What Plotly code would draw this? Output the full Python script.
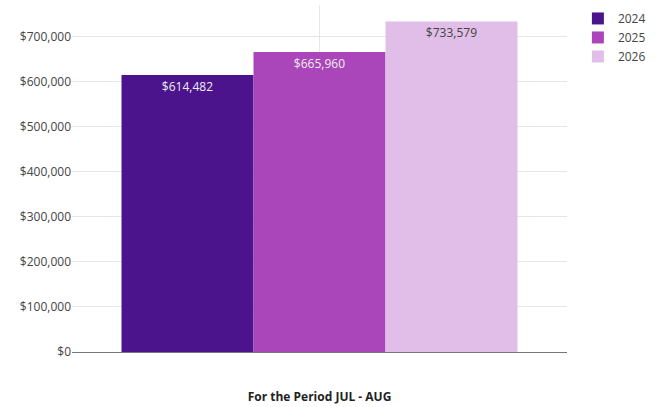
import plotly.graph_objects as go

categories = ["For the Period JUL - AUG"]
series_names = ["2024", "2025", "2026"]
values_2024 = [614482]
values_2025 = [665960]
values_2026 = [733579]
colors = ["#4b148c", "#aa46b9", "#e1bee7"]
text_colors = ["#eeeeee", "#eeeeee", "#444444"]
y_tickvals = [0, 100000, 200000, 300000, 400000, 500000, 600000, 700000]
y_ticktext = ["$0", "$100,000", "$200,000", "$300,000", "$400,000", "$500,000", "$600,000", "$700,000"]

fig = go.Figure()
for name, vals, col, tcol in zip(series_names, [values_2024, values_2025, values_2026], colors, text_colors):
    fig.add_trace(go.Bar(
        x=categories, y=vals, name=name,
        marker=dict(color=col, line=dict(width=0)),
        text=[f"${v:,}" for v in vals], textposition="inside", insidetextanchor="end",
        textangle=0,
        textfont=dict(color=tcol, size=12, family="Open Sans"),
        cliponaxis=False,
    ))

fig.update_layout(
    width=660, height=407,
    margin=dict(l=72, r=93, t=5, b=55, autoexpand=False),
    paper_bgcolor="white", plot_bgcolor="white",
    barmode="group", bargap=0.2, bargroupgap=0,
    font=dict(family="Open Sans", size=12, color="#444444"),
    showlegend=True,
    legend=dict(x=1.022, y=1.003, xanchor="left", yanchor="top",
                font=dict(size=12, color="#444444"), tracegroupgap=0),
    uniformtext=dict(minsize=12, mode="show"),
)
fig.update_xaxes(
    automargin=False,
    showgrid=True, gridcolor="#e6e6e6", showline=False, ticks="", showticklabels=False,
    title=dict(text="<b>For the Period JUL - AUG</b>", font=dict(size=12, color="#222222"), standoff=40),
)
fig.update_yaxes(
    automargin=False,
    range=[0, 770000], tickvals=y_tickvals, ticktext=y_ticktext,
    showgrid=True, gridcolor="#e6e6e6", zeroline=True, zerolinecolor="#777777", zerolinewidth=1,
    ticks="", tickfont=dict(size=12, color="#444444"),
)
fig.write_html("out.html", config={"displayModeBar": False},
               post_script="document.body.style.margin='0';document.body.style.overflow='hidden';")
